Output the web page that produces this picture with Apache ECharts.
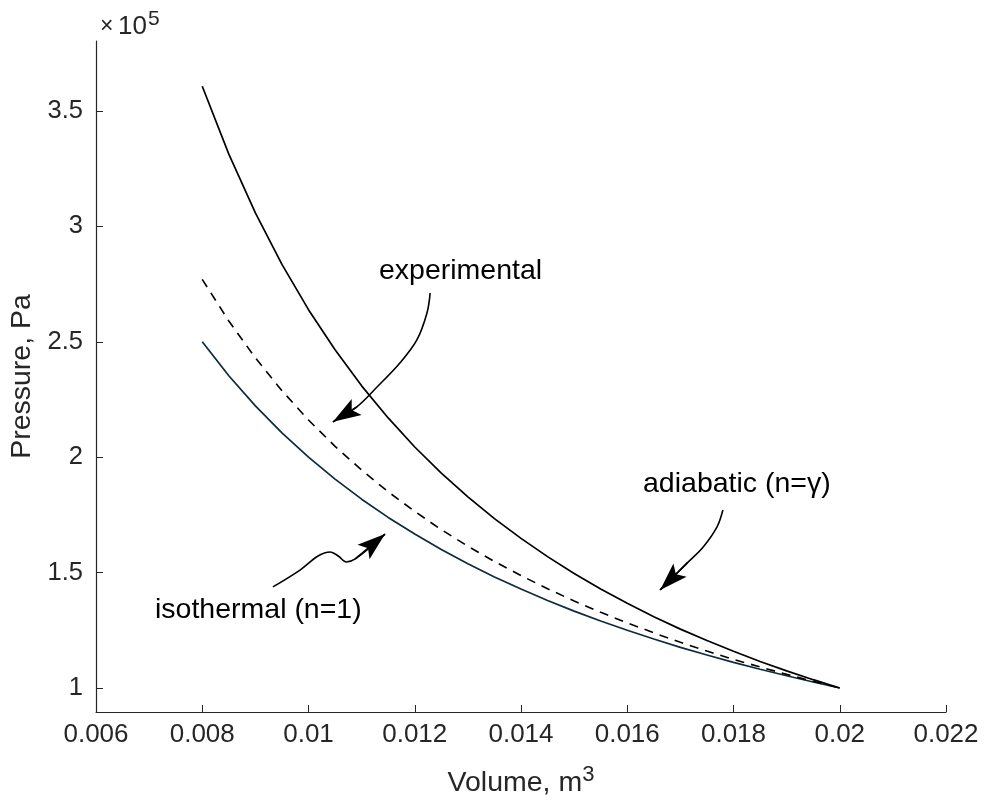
<!DOCTYPE html>
<html>
<head>
<meta charset="utf-8">
<script src="https://cdn.jsdelivr.net/npm/echarts@6/dist/echarts.min.js"></script>
<style>
html,body{margin:0;padding:0;background:#fff;}
#chart{width:984px;height:802px;}
</style>
</head>
<body>
<div id="chart"></div>
<script>
// Volume (m^3)
var volumes = [0.008,0.0085,0.009,0.0095,0.010,0.0105,0.011,0.0115,0.012,0.0125,0.013,0.0135,0.014,0.0145,0.015,0.0155,0.016,0.0165,0.017,0.0175,0.018,0.0185,0.019,0.0195,0.020];
// Pressure (x10^5 Pa)
var isothermal = [2.500,2.353,2.222,2.105,2.000,1.905,1.818,1.739,1.667,1.600,1.538,1.481,1.429,1.379,1.333,1.290,1.250,1.212,1.176,1.143,1.111,1.081,1.053,1.026,1.000];
var adiabatic = [3.607,3.313,3.058,2.835,2.639,2.465,2.309,2.170,2.044,1.931,1.828,1.734,1.648,1.569,1.496,1.429,1.367,1.309,1.255,1.206,1.159,1.115,1.074,1.036,1.000];
var experimental = [2.770,2.590,2.430,2.288,2.161,2.047,1.944,1.850,1.765,1.686,1.614,1.548,1.487,1.430,1.377,1.328,1.282,1.239,1.198,1.160,1.124,1.091,1.059,1.029,1.000];

var xTickValues = [0.006,0.008,0.010,0.012,0.014,0.016,0.018,0.020,0.022];
var xTickLabels = ['0.006','0.008','0.01','0.012','0.014','0.016','0.018','0.02','0.022'];
var yTickValues = [1,1.5,2,2.5,3,3.5];
var yTickLabels = ['1','1.5','2','2.5','3','3.5'];

// annotation arrows (data coordinates, last point = arrow tip)
var arrowExperimental = [[0.01229,2.711],[0.01223,2.625],[0.01204,2.508],[0.01172,2.408],[0.01129,2.304],[0.01091,2.218],[0.01046,2.153]];
var arrowAdiabatic = [[0.01780,1.771],[0.01769,1.698],[0.01743,1.611],[0.01713,1.542],[0.01662,1.425]];
var arrowIsothermal = [[0.00933,1.438],[0.00984,1.511],[0.01018,1.572],[0.01041,1.589],[0.01056,1.572],[0.01071,1.546],[0.01088,1.559],[0.01144,1.667]];

function pairs(xs, ys){ return xs.map(function(x,i){ return [x, ys[i]]; }); }
function lbl(values, labels){ return function(v){ for (var i=0;i<values.length;i++){ if (Math.abs(values[i]-v)<1e-9) return labels[i]; } return ''; }; }

var TXT = '#262626';
var FONT = 'Liberation Sans, Arial, Helvetica, sans-serif';
var ARROW = 'path://M-24,-24 M24,24 M0,0 L8,24 L0,19 L-8,24 Z';

function shaft(pts){
  return {type:'line', data:pts, showSymbol:false, smooth:0.35, silent:true, z:3,
    lineStyle:{color:'#000', width:1.6}};
}
function head(pts){
  var n = pts.length;
  return {coords:[pts[n-2], pts[n-1]]};
}

var chart = echarts.init(document.getElementById('chart'), null, {renderer:'canvas'});
chart.setOption({
  backgroundColor:'#fff',
  animation:false,
  grid:{left:96, right:38, top:41, bottom:90, containLabel:false, outerBoundsMode:'none'},
  xAxis:{
    type:'value', min:0.006, max:0.022,
    name:'{a|Volume, m}{s|3}', nameLocation:'middle', nameGap:52,
    nameTextStyle:{rich:{a:{fontSize:28.5,color:TXT,fontFamily:FONT}, s:{fontSize:22,color:TXT,fontFamily:FONT,verticalAlign:'top',padding:[0,0,16,0]}}},
    axisLine:{show:true, onZero:false, lineStyle:{color:TXT,width:1.2}},
    axisTick:{show:true, inside:true, length:7, customValues:xTickValues, lineStyle:{color:TXT}},
    axisLabel:{customValues:xTickValues, formatter:lbl(xTickValues,xTickLabels), fontSize:26, color:TXT, fontFamily:FONT, margin:10},
    splitLine:{show:false}
  },
  yAxis:{
    type:'value', min:0.896, max:3.803,
    name:'Pressure, Pa', nameLocation:'middle', nameGap:59,
    nameTextStyle:{fontSize:28.5,color:TXT,fontFamily:FONT},
    axisLine:{show:true, onZero:false, lineStyle:{color:TXT,width:1.2}},
    axisTick:{show:true, inside:true, length:7, customValues:yTickValues, lineStyle:{color:TXT}},
    axisLabel:{customValues:yTickValues, formatter:lbl(yTickValues,yTickLabels), fontSize:25.5, color:TXT, fontFamily:FONT, margin:13},
    splitLine:{show:false}
  },
  graphic:[
    {type:'text', x:100, y:27, style:{text:'×', font:'23px '+FONT, fill:TXT, verticalAlign:'middle'}},
    {type:'text', x:118, y:27, style:{text:'10', font:'26px '+FONT, fill:TXT, verticalAlign:'middle'}},
    {type:'text', x:148, y:19, style:{text:'5', font:'21px '+FONT, fill:TXT, verticalAlign:'middle'}},
    {type:'text', x:379, y:271, style:{text:'experimental', font:'28.5px '+FONT, fill:'#000', verticalAlign:'middle'}},
    {type:'text', x:643, y:484, style:{text:'adiabatic (n=γ)', font:'28.5px '+FONT, fill:'#000', verticalAlign:'middle'}},
    {type:'text', x:155, y:610, style:{text:'isothermal (n=1)', font:'28.5px '+FONT, fill:'#000', verticalAlign:'middle'}}
  ],
  series:[
    {name:'isothermal', type:'line', data:pairs(volumes,isothermal), showSymbol:false, smooth:false, lineStyle:{color:'#0e2a3d', width:1.7}},
    {name:'experimental', type:'line', data:pairs(volumes,experimental), showSymbol:false, smooth:false, lineStyle:{color:'#000', width:1.6, type:[9,7]}},
    {name:'adiabatic', type:'line', data:pairs(volumes,adiabatic), showSymbol:false, smooth:false, lineStyle:{color:'#000', width:1.7}},
    shaft(arrowExperimental),
    shaft(arrowAdiabatic),
    shaft(arrowIsothermal),
    {type:'lines', coordinateSystem:'cartesian2d', symbol:['none',ARROW], symbolSize:[0,56], silent:true, z:4,
      lineStyle:{color:'#000', width:1.6, opacity:1},
      data:[head(arrowExperimental), head(arrowAdiabatic), head(arrowIsothermal)]}
  ]
});
</script>
</body>
</html>
